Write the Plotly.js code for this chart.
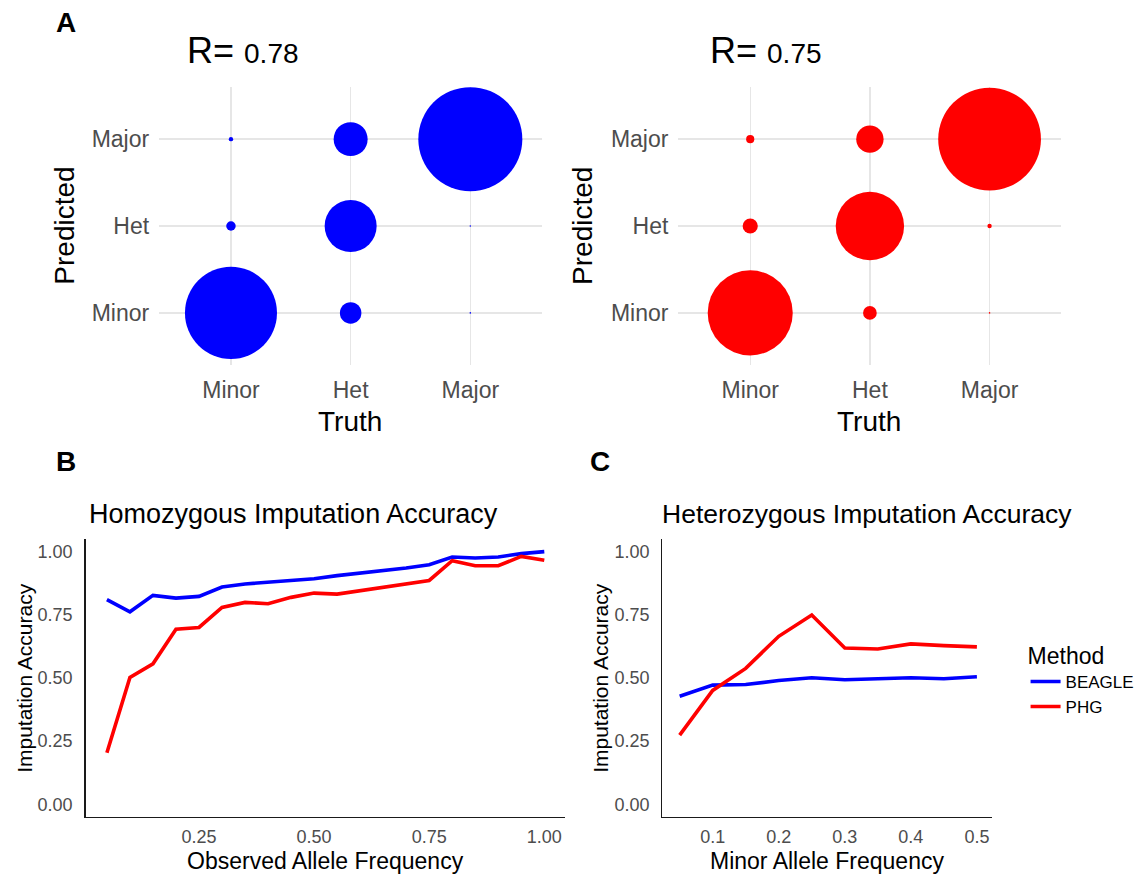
<!DOCTYPE html>
<html><head><meta charset="utf-8">
<script src="https://cdn.plot.ly/plotly-3.0.1.min.js"></script>
<style>html,body{margin:0;padding:0;background:#fff}#chart{width:1140px;height:874px}</style>
</head><body><div id="chart"></div>
<script>
// ---------- Panel A: genotype calls, Truth vs Predicted (percent of sites) ----------
const genotypeCats  = ['Minor', 'Het', 'Major'];
const cellTruth     = ['Minor', 'Minor', 'Minor', 'Het', 'Het', 'Het', 'Major', 'Major', 'Major'];
const cellPredicted = ['Minor', 'Het', 'Major', 'Minor', 'Het', 'Major', 'Minor', 'Het', 'Major'];
const beaglePct = [35.7, 0.38, 0.08, 1.95, 11.4, 4.87, 0.01, 0.01, 45.6];
const phgPct    = [30.5, 0.97, 0.28, 0.79, 19.7, 3.15, 0.01, 0.08, 44.5];
const beagleR = '0.78';
const phgR = '0.75';

// ---------- Panel B: homozygous imputation accuracy ----------
const observedFreq = [0.05, 0.10, 0.15, 0.20, 0.25, 0.30, 0.35, 0.40, 0.45, 0.50,
                      0.55, 0.60, 0.65, 0.70, 0.75, 0.80, 0.85, 0.90, 0.95, 1.00];
const homBeagle = [0.810, 0.762, 0.827, 0.816, 0.823, 0.860, 0.872, 0.878, 0.886, 0.893,
                   0.905, 0.915, 0.923, 0.935, 0.948, 0.979, 0.975, 0.979, 0.992, 1.000];
const homPhg    = [0.204, 0.502, 0.556, 0.693, 0.700, 0.779, 0.799, 0.794, 0.819, 0.836,
                   0.832, 0.845, 0.857, 0.872, 0.886, 0.964, 0.944, 0.944, 0.981, 0.966];

// ---------- Panel C: heterozygous imputation accuracy ----------
const minorFreq = [0.05, 0.10, 0.15, 0.20, 0.25, 0.30, 0.35, 0.40, 0.45, 0.50];
const hetBeagle = [0.428, 0.472, 0.474, 0.490, 0.501, 0.493, 0.497, 0.501, 0.497, 0.505];
const hetPhg    = [0.274, 0.451, 0.538, 0.665, 0.749, 0.619, 0.615, 0.635, 0.628, 0.623];

// ---------- tick labels ----------
const accTickVals = [0, 0.25, 0.5, 0.75, 1];
const accTickText = ['0.00', '0.25', '0.50', '0.75', '1.00'];
const obsTickVals = [0.25, 0.5, 0.75, 1.0];
const obsTickText = ['0.25', '0.50', '0.75', '1.00'];
const mafTickVals = [0.1, 0.2, 0.3, 0.4, 0.5];
const mafTickText = ['0.1', '0.2', '0.3', '0.4', '0.5'];

const methodNames = ['BEAGLE', 'PHG'];
const methodColors = ['#0000FF', '#FF0000'];

// ---------- layout helpers (pixel -> paper) ----------
const W = 1140, H = 874;
const px = v => v / W;
const py = v => 1 - v / H;
const FONT = 'Liberation Sans, Arial, Helvetica, sans-serif';
const sizeref = 2 * Math.max(...beaglePct, ...phgPct) / (104 * 104);

const bubble = (vals, color, xa, ya) => ({
  type: 'scatter', mode: 'markers', x: cellTruth, y: cellPredicted,
  xaxis: xa, yaxis: ya, showlegend: false, hoverinfo: 'x+y',
  marker: { size: vals, sizemode: 'area', sizeref: sizeref, sizemin: 0,
            color: color, opacity: 1, line: { width: 0 } }
});
const line = (x, y, i, xa, ya, show) => ({
  type: 'scatter', mode: 'lines', x: x, y: y, xaxis: xa, yaxis: ya,
  name: methodNames[i], legendgroup: methodNames[i], showlegend: show,
  line: { color: methodColors[i], width: 3.6 }
});

const data = [
  bubble(beaglePct, methodColors[0], 'x', 'y'),
  bubble(phgPct, methodColors[1], 'x2', 'y2'),
  line(observedFreq, homBeagle, 0, 'x3', 'y3', true),
  line(observedFreq, homPhg, 1, 'x3', 'y3', true),
  line(minorFreq, hetBeagle, 0, 'x4', 'y4', false),
  line(minorFreq, hetPhg, 1, 'x4', 'y4', false)
];

const catAxis = (dom, anchor) => ({
  domain: dom, anchor: anchor, type: 'category', categoryorder: 'array',
  categoryarray: genotypeCats, range: [-0.6, 2.6], showgrid: true,
  gridcolor: '#E6E6E6', gridwidth: 1.4, zeroline: false, showline: false,
  ticks: '', tickfont: { size: 23, color: '#4D4D4D', family: FONT },
  ticklabelstandoff: 9, fixedrange: true
});
const numAxis = (dom, anchor, range, tv, tt, stand) => ({
  domain: dom, anchor: anchor, range: range, tickmode: 'array', tickvals: tv, ticktext: tt,
  showgrid: false, zeroline: false, showline: true, linecolor: '#1a1a1a', linewidth: 1.4,
  ticks: '', tickfont: { size: 18, color: '#4D4D4D', family: FONT },
  ticklabelstandoff: stand, fixedrange: true
});

const yDomA = [py(365), py(87)];
const yDomBC = [py(817), py(539)];

const ann = (text, x, y, size, opts = {}) => Object.assign({
  text: text, x: px(x), y: py(y), xref: 'paper', yref: 'paper', showarrow: false,
  xanchor: 'center', yanchor: 'middle', font: { size: size, color: '#000', family: FONT }
}, opts);

const rTitle = r => '<span style="font-size:36px">R=</span> <span style="font-size:28px">' + r + '</span>';

const layout = {
  width: W, height: H, margin: { l: 0, r: 0, t: 0, b: 0 },
  paper_bgcolor: '#fff', plot_bgcolor: '#fff',
  font: { family: FONT, color: '#000' },
  xaxis:  catAxis([px(160), px(545)], 'y'),
  yaxis:  catAxis(yDomA, 'x'),
  xaxis2: catAxis([px(682), px(1067)], 'y2'),
  yaxis2: catAxis(yDomA, 'x2'),
  xaxis3: numAxis([px(86), px(568)], 'y3', [0.0036, 1.045], obsTickVals, obsTickText, 3),
  yaxis3: numAxis(yDomBC, 'x3', [-0.05, 1.05], accTickVals, accTickText, 8),
  xaxis4: numAxis([px(666), px(997)], 'y4', [0.024, 0.5225], mafTickVals, mafTickText, 3),
  yaxis4: numAxis(yDomBC, 'x4', [-0.05, 1.05], accTickVals, accTickText, 8),
  showlegend: true,
  legend: {
    x: px(1031), y: py(634), xanchor: 'left', yanchor: 'top',
    font: { size: 17, family: FONT, color: '#000' },
    title: { text: 'Method', font: { size: 23, family: FONT, color: '#000' } },
    itemwidth: 30, bgcolor: 'rgba(0,0,0,0)', tracegroupgap: 0
  },
  annotations: [
    ann('<b>A</b>', 66, 22, 28),
    ann('<b>B</b>', 66, 461, 28),
    ann('<b>C</b>', 603, 461, 28),
    ann(rTitle(beagleR), 186, 50, 36, { xanchor: 'left' }),
    ann(rTitle(phgR), 712, 50, 36, { xanchor: 'left' }),
    ann('Predicted', 65, 226, 28, { textangle: -90 }),
    ann('Truth', 352, 421, 28),
    ann('Predicted', 586, 226, 28, { textangle: -90 }),
    ann('Truth', 874, 421, 28),
    ann('Homozygous Imputation Accuracy', 87, 514, 27, { xanchor: 'left' }),
    ann('Heterozygous Imputation Accuracy', 663, 514, 26.5, { xanchor: 'left' }),
    ann('Observed Allele Frequency', 327, 861, 23),
    ann('Minor Allele Frequency', 831, 861, 23),
    ann('Imputation Accuracy', 24, 678, 21, { textangle: -90 }),
    ann('Imputation Accuracy', 603, 678, 21, { textangle: -90 })
  ]
};

Plotly.newPlot('chart', data, layout, { displayModeBar: false, staticPlot: true });
</script>
</body></html>
